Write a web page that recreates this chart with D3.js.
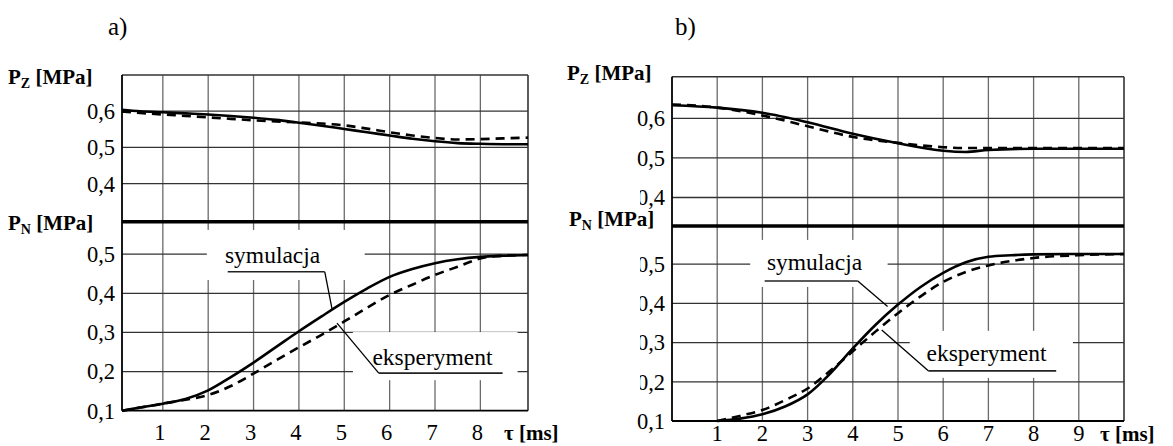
<!DOCTYPE html>
<html>
<head>
<meta charset="utf-8">
<script src="https://cdn.jsdelivr.net/npm/d3@7"></script>
</head>
<body style="margin:0; background:#fff">
<svg id="fig" width="1173" height="446" style="display:block"></svg>
<script>
// ---- data: pressure transients, simulation vs experiment ----
// case a)
const timeA   = [0.1, 0.5, 1, 1.5, 2, 2.5, 3, 3.5, 4, 4.5, 5, 5.5, 6, 6.5, 7, 7.5, 8, 8.5, 9.05];
const pzSimA  = [0.604, 0.600, 0.597, 0.594, 0.591, 0.587, 0.582, 0.576, 0.568, 0.560, 0.551, 0.542, 0.533, 0.524, 0.517, 0.512, 0.510, 0.509, 0.509];
const pzExpA  = [0.599, 0.595, 0.591, 0.587, 0.583, 0.579, 0.575, 0.572, 0.569, 0.566, 0.561, 0.552, 0.542, 0.533, 0.526, 0.522, 0.523, 0.525, 0.527];
const pnSimA  = [0.100, 0.108, 0.118, 0.130, 0.152, 0.186, 0.223, 0.263, 0.303, 0.341, 0.378, 0.412, 0.442, 0.462, 0.477, 0.487, 0.493, 0.496, 0.498];
const pnExpA  = [0.100, 0.108, 0.118, 0.128, 0.140, 0.163, 0.195, 0.229, 0.262, 0.294, 0.328, 0.363, 0.396, 0.422, 0.447, 0.468, 0.489, 0.496, 0.498];

// case b)
const timeZB  = [0, 1, 2, 3, 4, 5, 6, 6.5, 7, 8, 9, 10];
const pzSimB  = [0.633, 0.627, 0.614, 0.590, 0.561, 0.537, 0.518, 0.515, 0.520, 0.523, 0.523, 0.523];
const pzExpB  = [0.635, 0.627, 0.607, 0.580, 0.553, 0.538, 0.527, 0.525, 0.525, 0.525, 0.525, 0.525];
const timeNB  = [1, 1.5, 2, 2.5, 3, 3.5, 4, 4.5, 5, 5.5, 6, 6.5, 7, 7.5, 8, 9, 10];
const pnSimB  = [0.100, 0.106, 0.117, 0.137, 0.168, 0.221, 0.285, 0.345, 0.397, 0.442, 0.478, 0.505, 0.519, 0.523, 0.525, 0.526, 0.526];
const pnExpB  = [0.100, 0.113, 0.128, 0.153, 0.183, 0.228, 0.278, 0.328, 0.375, 0.418, 0.455, 0.480, 0.497, 0.508, 0.516, 0.523, 0.526];

// tick labels
const xTicksA = [1, 2, 3, 4, 5, 6, 7, 8];
const xTicksB = [1, 2, 3, 4, 5, 6, 7, 8, 9];
const yTicksTop = [0.4, 0.5, 0.6];
const yTicksBottom = [0.1, 0.2, 0.3, 0.4, 0.5];

const fmt = v => d3.format(".1f")(v).replace(".", ",");
const FACE = "Liberation Serif";

const svg = d3.select("#fig");

// every label goes through here so the serif face is set on the element itself
function label(g, x, y, str, size, opts = {}) {
  const t = g.append("text").attr("x", x).attr("y", y)
    .attr("font-size", size)
    .style("font-family", `"${FACE}"`)
    .attr("fill", "#000");
  if (opts.bold) t.attr("font-weight", "bold");
  if (opts.anchor) t.attr("text-anchor", opts.anchor);
  if (opts.dy) t.attr("dy", opts.dy);
  if (str !== null) t.text(str);
  return t;
}

// ---- panel geometry ----
const panels = [
  {
    title: "a)", titleX: 108,
    x: d3.scaleLinear().domain([0.1, 9.05]).range([122, 528]),
    yTop: d3.scaleLinear().domain([0.295, 0.7]).range([221.7, 75]),
    yBot: d3.scaleLinear().domain([0.1, 0.583]).range([410.7, 221.7]),
    xTicks: xTicksA, xLabelShift: -3, xLabelY: 440, tauX: 504,
    pzLabelX: 8, pzBase: 84, pnLabelX: 8, pnBase: 230,
    series: { tz: timeA, tn: timeA, zs: pzSimA, ze: pzExpA, ns: pnSimA, ne: pnExpA },
    sim: { box: [1.97, 5.45, 0.434, 0.562], text: [2.37, 0.478], line: [2.43, 4.57, 0.455], tip: [4.73, 0.360] },
    exp: { box: [5.19, 8.82, 0.178, 0.301], text: [5.62, 0.217], line: [5.76, 8.49, 0.196], tip: [4.84, 0.324] },
    clip: null
  },
  {
    title: "b)", titleX: 675,
    x: d3.scaleLinear().domain([0, 10]).range([672, 1124]),
    yTop: d3.scaleLinear().domain([0.328, 0.705]).range([226, 76.7]),
    yBot: d3.scaleLinear().domain([0.1, 0.5975]).range([421, 226]),
    xTicks: xTicksB, xLabelShift: 0, xLabelY: 441, tauX: 1100,
    pzLabelX: 567, pzBase: 80, pnLabelX: 569, pnBase: 226,
    series: { tz: timeZB, tn: timeNB, zs: pzSimB, ze: pzExpB, ns: pnSimB, ne: pnExpB },
    sim: { box: [1.73, 4.77, 0.442, 0.562], text: [2.1, 0.485], line: [2.05, 4.11, 0.457], tip: [4.77, 0.392] },
    exp: { box: [5.26, 8.87, 0.210, 0.330], text: [5.63, 0.254], line: [5.67, 8.5, 0.228], tip: [4.64, 0.332] },
    clip: [600, 640, 182, 408]
  }
];

function axisTitle(g, x, base, sub) {
  const t = label(g, x, base, null, 21, { bold: true });
  t.append("tspan").text("P");
  t.append("tspan").attr("font-size", 14).attr("dy", 4).text(sub);
  t.append("tspan").attr("dy", -4).text(" [MPa]");
}

panels.forEach(p => {
  const g = svg.append("g");
  const x = p.x, yT = p.yTop, yB = p.yBot;
  const [x0, x1] = x.range();
  const top = yT.range()[1], sep = yT.range()[0], bot = yB.range()[0];

  // title
  label(g, p.titleX, 35, p.title, 25);

  // vertical grid
  g.selectAll(".vg").data(p.xTicks).join("line")
    .attr("x1", d => x(d)).attr("x2", d => x(d))
    .attr("y1", top).attr("y2", bot)
    .attr("stroke", "#6a6a6a").attr("stroke-width", 1.3);

  // horizontal grid
  g.selectAll(".hgt").data(yTicksTop).join("line")
    .attr("x1", x0).attr("x2", x1)
    .attr("y1", d => yT(d)).attr("y2", d => yT(d))
    .attr("stroke", "#333").attr("stroke-width", 1.3);
  g.selectAll(".hgb").data(yTicksBottom.filter(v => v > 0.1)).join("line")
    .attr("x1", x0).attr("x2", x1)
    .attr("y1", d => yB(d)).attr("y2", d => yB(d))
    .attr("stroke", "#333").attr("stroke-width", 1.3);

  // frame
  const frame = g.append("g").attr("stroke", "#000").attr("fill", "none");
  frame.append("line").attr("x1", x0).attr("x2", x1).attr("y1", top).attr("y2", top).attr("stroke-width", 1.6).attr("stroke", "#333");
  frame.append("line").attr("x1", x0).attr("x2", x0).attr("y1", top).attr("y2", bot).attr("stroke-width", 1.8);
  frame.append("line").attr("x1", x1).attr("x2", x1).attr("y1", top).attr("y2", bot).attr("stroke-width", 1.6).attr("stroke", "#333");
  frame.append("line").attr("x1", x0).attr("x2", x1).attr("y1", bot).attr("y2", bot).attr("stroke-width", 1.8);
  frame.append("line").attr("x1", x0).attr("x2", x1).attr("y1", sep).attr("y2", sep).attr("stroke-width", 3.6);

  // label boxes (white backgrounds that interrupt the grid)
  [p.sim, p.exp].forEach(a => {
    const [t0, t1, v0, v1] = a.box;
    g.append("rect").attr("x", x(t0)).attr("width", x(t1) - x(t0))
      .attr("y", yB(v1)).attr("height", yB(v0) - yB(v1)).attr("fill", "#fff");
  });

  // curves
  const s = p.series;
  const lineZ = ts => d3.line().x((d, i) => x(ts[i])).y(d => yT(d)).curve(d3.curveMonotoneX);
  const lineN = ts => d3.line().x((d, i) => x(ts[i])).y(d => yB(d)).curve(d3.curveMonotoneX);
  const curves = [
    { d: lineZ(s.tz)(s.ze), dash: "9,6" },
    { d: lineZ(s.tz)(s.zs), dash: null },
    { d: lineN(s.tn)(s.ne), dash: "9,6" },
    { d: lineN(s.tn)(s.ns), dash: null }
  ];
  curves.forEach(c => {
    g.append("path").attr("d", c.d).attr("fill", "none")
      .attr("stroke", "#000").attr("stroke-width", 2.6)
      .attr("stroke-dasharray", c.dash);
  });

  // annotations with leader lines
  [[p.sim, "symulacja"], [p.exp, "eksperyment"]].forEach(([a, name]) => {
    label(g, x(a.text[0]), yB(a.text[1]), name, 23.5);
    const [l0, l1, lv] = a.line;
    g.append("line").attr("x1", x(l0)).attr("x2", x(l1))
      .attr("y1", yB(lv)).attr("y2", yB(lv)).attr("stroke", "#222").attr("stroke-width", 1.6);
    const startT = name === "symulacja" ? l1 : l0;
    g.append("line").attr("x1", x(startT)).attr("y1", yB(lv))
      .attr("x2", x(a.tip[0])).attr("y2", yB(a.tip[1]))
      .attr("stroke", "#000").attr("stroke-width", 1.3);
  });

  // y tick labels
  yTicksTop.forEach(v => label(g, x0 - 7, yT(v), fmt(v), 22.5, { anchor: "end", dy: "0.35em" }));
  yTicksBottom.forEach(v => label(g, x0 - 7, yB(v), fmt(v), 22.5, { anchor: "end", dy: "0.35em" }));
  if (p.clip) {
    const [cx0, cx1, cy0, cy1] = p.clip;
    g.append("rect").attr("x", cx0).attr("y", cy0).attr("width", cx1 - cx0)
      .attr("height", cy1 - cy0).attr("fill", "#fff");
  }

  // x tick labels
  p.xTicks.forEach(t => label(g, x(t) + p.xLabelShift, p.xLabelY, String(t), 22.5, { anchor: "middle" }));
  label(g, p.tauX, p.xLabelY, "τ [ms]", 21, { bold: true });

  // axis titles
  axisTitle(g, p.pzLabelX, p.pzBase, "Z");
  axisTitle(g, p.pnLabelX, p.pnBase, "N");
});
</script>
</body>
</html>
